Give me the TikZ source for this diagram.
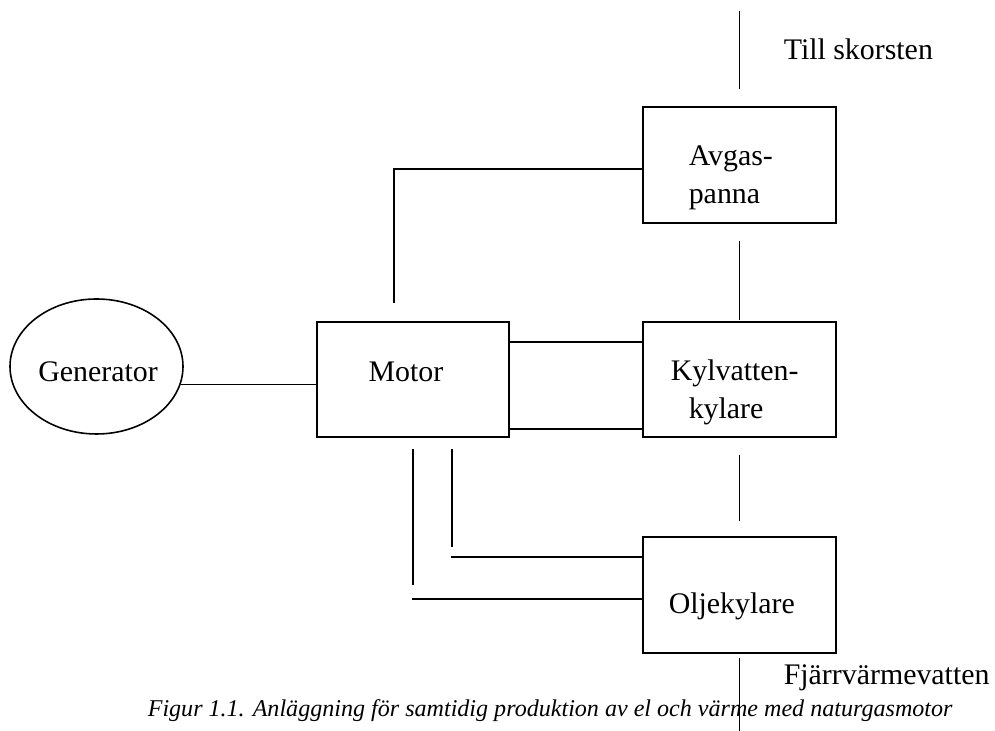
\documentclass[tikz,border=0pt]{standalone}
\usepackage{fontspec}
\setmainfont{Liberation Serif}
\usetikzlibrary{calc,shapes.geometric}
\begin{document}
\begin{tikzpicture}[line width=0.9pt,
  unit/.style={draw, rectangle, inner sep=0pt, minimum width=3.86cm, minimum height=2.32cm},
  lbl/.style={font=\fontsize{17}{21.6}\selectfont, inner sep=0pt}]
\useasboundingbox (0,0) rectangle (19.9,14.62);
% the units
\node[unit] (avgas) at (14.79,11.32) {};
\node[unit, minimum height=2.30cm] (kyl) at (14.79,7.03) {};
\node[unit] (olje) at (14.79,2.72) {};
\node[unit, minimum width=3.84cm, minimum height=2.30cm] (motor) at (8.26,7.03) {};
\node[draw, ellipse, inner sep=0pt, minimum width=3.46cm, minimum height=2.70cm] (gen) at (1.93,7.29) {};
% texts in the units
\node[lbl, anchor=west, align=left] (avgastxt) at (13.76,11.06) {Avgas-\\panna};
\node[lbl, anchor=west, align=left] (kyltxt) at (13.40,6.78) {Kylvatten-\\\hspace*{0.36cm}kylare};
\node[lbl, anchor=base west] (oljetxt) at (13.36,2.34) {Oljekylare};
\node[lbl, anchor=base] (motortxt) at (8.12,6.98) {Motor};
\node[lbl, anchor=base] (gentxt) at (1.96,6.98) {Generator};
\node[lbl, anchor=base west] (skorsten) at (15.66,13.42) {Till skorsten};
\node[lbl, anchor=base west] (fjarr) at (15.66,0.92) {Fjärrvärmevatten};
\node[font=\fontsize{13.7}{16}\selectfont\itshape, anchor=base west, inner sep=0pt] (caption) at (2.94,0.28)
  {Figur 1.1. Anläggning för samtidig produktion av el och värme med naturgasmotor};
% the water line, top to bottom
\draw ($(avgas.north)+(0,0.34)$) -- ++(0,1.56);
\draw ($(avgas.south)+(0,-0.34)$) -- ++(0,-1.58);
\draw ($(kyl.south)+(0,-0.34)$) -- ++(0,-1.32);
\draw ($(olje.south)+(0,-0.08)$) -- ++(0,-1.48);
% generator - motor
\draw (gen.-12) -- (gen.-12 -| motor.west);
% exhaust gas
\coordinate (avgin) at ($(motor.north)+(-0.38,0.36)$);
\draw ($(avgas.west)+(0,-0.08)$) -| (avgin);
\foreach \dy in {0.75,-0.99} % motor - kylvattenkylare
  \draw ($(motor.east)+(0,\dy)$) -- ($(kyl.west)+(0,\dy)$);
% oil lines, left open at the corners
\draw ($(motor.south)+(0.78,-0.22)$) -- ++(0,-1.96);
\draw ($(olje.west)+(0,0.76)$) -- ++(-3.82,0);
\draw ($(motor.south)+(0,-0.22)$) -- ++(0,-2.72);
\draw ($(olje.west)+(0,-0.08)$) -- ++(-4.60,0);
\end{tikzpicture}
\end{document}
